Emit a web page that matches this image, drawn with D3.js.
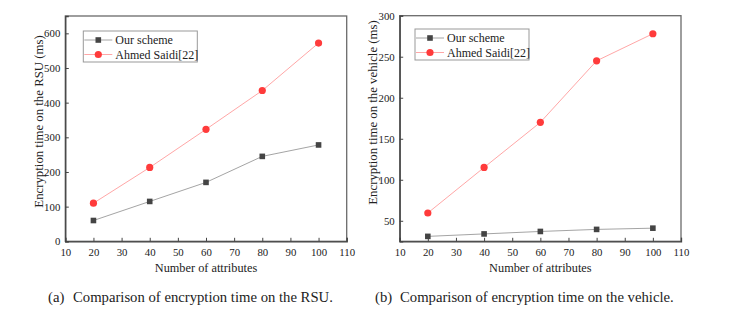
<!DOCTYPE html>
<html>
<head>
<meta charset="utf-8">
<script src="https://cdn.jsdelivr.net/npm/d3@7"></script>
<style>
  body { margin: 0; background: #fff; }
  svg { display: block; }
  text { font-family: "Liberation Serif", "Times New Roman", serif; fill: #222; }
</style>
</head>
<body>
<svg id="chart" width="735" height="317"></svg>
<script>
var attributes = [20, 40, 60, 80, 100];
var seriesNames = ["Our scheme", "Ahmed Saidi[22]"];

// (a) RSU
var rsuOurs = [60, 115, 170, 245, 278];
var rsuSaidi = [110, 213, 323, 435, 572];
// (b) vehicle
var vehOurs = [31, 34, 37, 39.5, 41];
var vehSaidi = [59.5, 115, 170, 245, 278];

var xTicks = [10, 20, 30, 40, 50, 60, 70, 80, 90, 100, 110];
var rsuTicks = [0, 100, 200, 300, 400, 500, 600];
var vehTicks = [50, 100, 150, 200, 250, 300];

var captionLabels = ["(a)", "(b)"];
var captions = ["Comparison of encryption time on the RSU.",
                "Comparison of encryption time on the vehicle."];

var svg = d3.select("#chart");

var LINE_COLORS = ["#9a9a9a", "#ff9c9c"];
var MARK_COLORS = ["#444", "#ff3b3b"];

function drawPanel(opt) {
    var x = d3.scaleLinear().domain([10, 110]).range([opt.left, opt.right]);
    var y = d3.scaleLinear().domain(opt.yDomain).range([241.3, opt.top]);

    var g = svg.append("g");

    // frame
    g.append("rect")
        .attr("x", opt.left).attr("y", opt.top)
        .attr("width", opt.right - opt.left)
        .attr("height", 241.3 - opt.top)
        .attr("fill", "none")
        .attr("stroke", "#6a6a6a")
        .attr("stroke-width", 1.3);

    var xAxis = g.append("g")
        .attr("transform", "translate(0,241.3)")
        .call(d3.axisBottom(x).tickValues(xTicks).tickSize(-3.5).tickPadding(7));
    var yAxis = g.append("g")
        .attr("transform", "translate(" + opt.left + ",0)")
        .call(d3.axisLeft(y).tickValues(opt.yTicks).tickSize(-3.5).tickPadding(5));

    [xAxis, yAxis].forEach(function (a) {
        a.select(".domain").attr("stroke", "#444").attr("stroke-width", 1.3);
        a.selectAll(".tick line").attr("stroke", "#444");
        a.selectAll(".tick text")
            .style("font-family", "Liberation Serif, serif")
            .style("font-size", "10.8px")
            .attr("fill", "#222");
    });

    var series = [opt.ours, opt.saidi];
    series.forEach(function (vals, si) {
        var pts = attributes.map(function (a, i) { return [a, vals[i]]; });
        g.append("path")
            .attr("d", d3.line().x(function (d) { return x(d[0]); }).y(function (d) { return y(d[1]); })(pts))
            .attr("fill", "none")
            .attr("stroke", LINE_COLORS[si])
            .attr("stroke-width", 0.9);
        if (si === 0) {
            g.selectAll(null).data(pts).enter().append("rect")
                .attr("x", function (d) { return x(d[0]) - 2.8; })
                .attr("y", function (d) { return y(d[1]) - 2.8; })
                .attr("width", 5.6).attr("height", 5.6)
                .attr("fill", MARK_COLORS[0]);
        } else {
            g.selectAll(null).data(pts).enter().append("circle")
                .attr("cx", function (d) { return x(d[0]); })
                .attr("cy", function (d) { return y(d[1]); })
                .attr("r", 3.6)
                .attr("fill", MARK_COLORS[1]);
        }
    });

    // legend
    var lg = g.append("g");
    lg.append("rect")
        .attr("x", opt.legX).attr("y", opt.legY)
        .attr("width", 114).attr("height", 31)
        .attr("fill", "#fff")
        .attr("stroke", "#999")
        .attr("stroke-width", 1);
    seriesNames.forEach(function (name, si) {
        var cy = opt.legY + 9 + si * 14.5;
        lg.append("line")
            .attr("x1", opt.legX + 1).attr("x2", opt.legX + 29)
            .attr("y1", cy).attr("y2", cy)
            .attr("stroke", LINE_COLORS[si]).attr("stroke-width", 0.9);
        if (si === 0) {
            lg.append("rect")
                .attr("x", opt.legX + 15 - 2.8).attr("y", cy - 2.8)
                .attr("width", 5.6).attr("height", 5.6)
                .attr("fill", MARK_COLORS[0]);
        } else {
            lg.append("circle")
                .attr("cx", opt.legX + 15).attr("cy", cy).attr("r", 3.6)
                .attr("fill", MARK_COLORS[1]);
        }
        lg.append("text")
            .attr("x", opt.legX + 32).attr("y", cy + 4.2)
            .style("font-size", "12px")
            .text(name);
    });

    // axis titles
    g.append("text")
        .attr("x", (opt.left + opt.right) / 2).attr("y", 271.5)
        .attr("text-anchor", "middle")
        .style("font-size", "12.3px")
        .text("Number of attributes");
    g.append("text")
        .attr("transform", "translate(" + opt.yTitleX + "," + opt.yTitleY + ") rotate(-90)")
        .attr("text-anchor", "middle")
        .style("font-size", "12.8px")
        .text(opt.yTitle);

    // sub-figure caption
    g.append("text")
        .attr("x", opt.capX).attr("y", 302)
        .style("font-size", "14.7px")
        .text(opt.capLabel);
    g.append("text")
        .attr("x", opt.capX + 25).attr("y", 302)
        .style("font-size", "14.7px")
        .text(opt.caption);
}

drawPanel({
    left: 65.3, right: 346.7, top: 16,
    yDomain: [0, 650], yTicks: rsuTicks,
    ours: rsuOurs, saidi: rsuSaidi,
    legX: 83.3, legY: 31,
    yTitle: "Encryption time on the RSU (ms)", yTitleX: 42.5, yTitleY: 121.5,
    capLabel: captionLabels[0], caption: captions[0], capX: 48
});

drawPanel({
    left: 399.7, right: 681, top: 15.7,
    yDomain: [25, 300], yTicks: vehTicks,
    ours: vehOurs, saidi: vehSaidi,
    legX: 415, legY: 29,
    yTitle: "Encryption time on the vehicle (ms)", yTitleX: 377, yTitleY: 112.5,
    capLabel: captionLabels[1], caption: captions[1], capX: 375
});
</script>
</body>
</html>
